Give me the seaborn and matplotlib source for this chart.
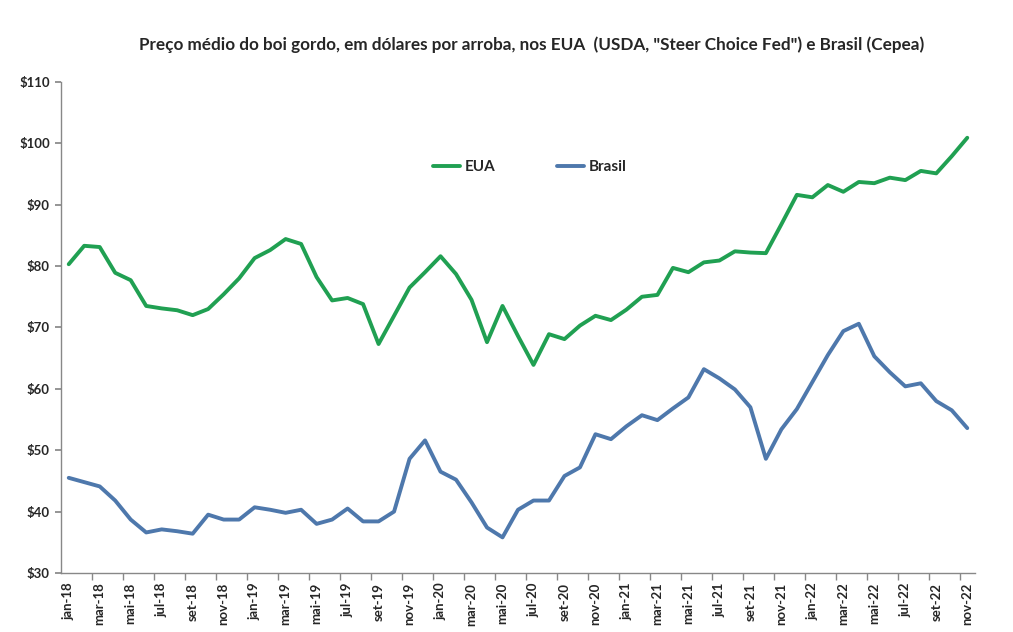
import numpy as np
import pandas as pd
import matplotlib
matplotlib.use("Agg")
import matplotlib.pyplot as plt
import seaborn as sns

months = ["jan", "fev", "mar", "abr", "mai", "jun", "jul", "ago", "set", "out", "nov", "dez"]
periods = [f"{m}-{y}" for y in ["18", "19", "20", "21", "22"] for m in months][:59]

eua = [80.3, 83.3, 83.1, 78.9, 77.7, 73.5, 73.1, 72.8, 72.0, 73.0, 75.4, 78.0,
       81.3, 82.6, 84.4, 83.6, 78.2, 74.4, 74.8, 73.8, 67.3, 71.9, 76.5, 79.0,
       81.6, 78.7, 74.5, 67.6, 73.5, 68.6, 63.9, 68.9, 68.1, 70.3, 71.9, 71.2,
       72.9, 75.0, 75.3, 79.7, 79.0, 80.6, 80.9, 82.4, 82.2, 82.1, 86.8, 91.6,
       91.2, 93.2, 92.1, 93.7, 93.5, 94.4, 94.0, 95.5, 95.1, 97.9, 100.9]

brasil = [45.5, 44.8, 44.1, 41.8, 38.7, 36.6, 37.1, 36.8, 36.4, 39.5, 38.7, 38.7,
          40.7, 40.3, 39.8, 40.3, 38.0, 38.7, 40.5, 38.4, 38.4, 40.0, 48.6, 51.6,
          46.5, 45.2, 41.5, 37.4, 35.8, 40.3, 41.8, 41.8, 45.8, 47.2, 52.6, 51.8,
          53.9, 55.7, 54.9, 56.8, 58.6, 63.2, 61.7, 59.9, 57.0, 48.6, 53.4, 56.7,
          61.1, 65.5, 69.4, 70.6, 65.3, 62.7, 60.4, 60.9, 58.0, 56.5, 53.6]

title = 'Preço médio do boi gordo, em dólares por arroba, nos EUA  (USDA, "Steer Choice Fed") e Brasil (Cepea)'

sns.set_theme(style="white")
plt.rcParams["font.family"] = ["Lato", "DejaVu Sans"]

idx = np.arange(len(periods))
df = pd.DataFrame({
    "idx": np.concatenate([idx, idx]),
    "valor": eua + brasil,
    "serie": ["EUA"] * len(eua) + ["Brasil"] * len(brasil),
})

fig = plt.figure(figsize=(10.13, 6.32), dpi=100)
ax = fig.add_axes([0.0602, 0.0934, 0.9023, 0.7770])

sns.lineplot(data=df, x="idx", y="valor", hue="serie",
             palette={"EUA": "#20A052", "Brasil": "#4E78AC"},
             linewidth=2.8, ax=ax, legend=True)

ax.set_xlim(-0.5, 58.5)
ax.set_ylim(30, 110)
ax.set_yticks(np.arange(30, 111, 10))
ax.set_yticklabels([f"${v}" for v in range(30, 111, 10)], fontsize=9.5, fontweight="bold")
ax.set_xticks(idx[::2])
ax.set_xticklabels(periods[::2], rotation=90, fontsize=9.5, fontweight="bold")
ax.set_xticks(np.arange(1.5, 58.5, 2), minor=True)
ax.tick_params(axis="x", which="major", length=0, pad=7)
ax.tick_params(axis="x", which="minor", length=5, color="#888888", direction="out", bottom=True)
ax.tick_params(axis="y", length=4, color="#888888", direction="out", left=True, pad=4)
ax.set_xlabel("")
ax.set_ylabel("")

for s in ["top", "right"]:
    ax.spines[s].set_visible(False)
for s in ["left", "bottom"]:
    ax.spines[s].set_color("#888888")
    ax.spines[s].set_linewidth(1.0)

handles, labels = ax.get_legend_handles_labels()
leg = ax.legend(handles, labels, loc="center", bbox_to_anchor=(0.513, 0.827), ncol=2,
                frameon=False, columnspacing=4.0, handlelength=1.8, handletextpad=0.3,
                prop={"weight": "bold", "size": 11})

fig.text(0.525, 0.930, title, ha="center", va="center", fontsize=12.3, fontweight="bold")

fig.savefig("out.png", dpi=100)
